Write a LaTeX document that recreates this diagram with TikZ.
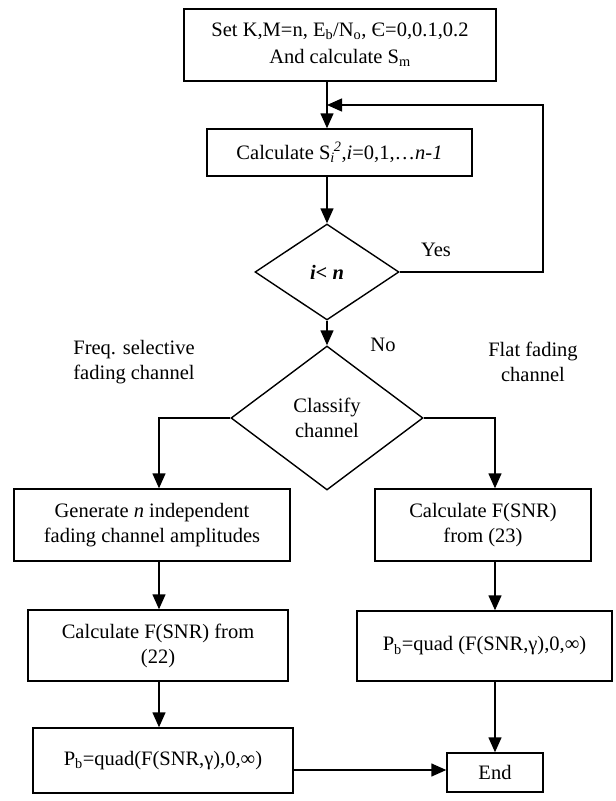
\documentclass[tikz,border=0pt]{standalone}
\usepackage{fontspec}
\setmainfont{Liberation Serif}
\usetikzlibrary{shapes.geometric,arrows.meta}
\begin{document}
\begin{tikzpicture}[x=1pt,y=-1pt,
  every node/.style={font=\fontsize{20.5}{25}\selectfont},
  box/.style={draw,line width=1.4pt,inner sep=0pt,align=center},
  dia/.style={draw,diamond,line width=1.4pt,inner sep=0pt,align=center},
  lbl/.style={align=center,inner sep=0pt},
  arr/.style={line width=1.4pt,-{Triangle[length=15pt,width=13pt]}},
  ln/.style={line width=1.4pt}]
\useasboundingbox (0,0) rectangle (616,801);
% nodes
\node[box,minimum width=312pt,minimum height=72pt] (top) at (340,45)
  {Set K,M=n, E\textsubscript{b}/N\textsubscript{o}, Є=0,0.1,0.2\\[2pt]And calculate S\textsubscript{m}};
\node[box,minimum width=265pt,minimum height=47pt] (calc) at (339.5,152.5)
  {Calculate S\textsubscript{\textit{i}}\kern-0.05em\textsuperscript{\textit{2}},\textit{i}=0,1,…\textit{n-1}};
\node[dia,minimum width=144pt,minimum height=96pt] (d1) at (327,272)
  {\bfseries\itshape i{\upshape<} n};
\node[dia,minimum width=192pt,minimum height=144pt] (d2) at (327,418)
  {Classify\\channel};
\node[box,minimum width=276pt,minimum height=72pt] (gen) at (152,525)
  {Generate \textit{n} independent\\fading channel amplitudes};
\node[box,minimum width=260pt,minimum height=71pt] (calc22) at (158,645.5)
  {Calculate F(SNR) from\\(22)};
\node[box,minimum width=260pt,minimum height=65pt] (pbl) at (163,760.5)
  {P\textsubscript{b}=quad(F(SNR,γ),0,∞)};
\node[box,minimum width=216pt,minimum height=72pt] (f23) at (483,525)
  {Calculate F(SNR)\\from (23)};
\node[box,minimum width=255pt,minimum height=70pt] (pbr) at (484.5,646)
  {P\textsubscript{b}=quad (F(SNR,γ),0,∞)};
\node[box,minimum width=96pt,minimum height=39pt] (endn) at (495,772.5) {End};
% labels
\node[lbl] (yes) at (436,250) {Yes};
\node[lbl] (no) at (383,345) {No};
\node[lbl] (freq) at (134,362) {Freq. selective\\fading channel};
\node[lbl] (flat) at (533,362) {Flat fading\\channel};
% helper coordinates
\coordinate (join) at (327,105);
\coordinate (loopc) at (543,272);
\coordinate (lx) at (159,0);
\coordinate (rx) at (495,0);
\coordinate (ey) at (0,770);
% connectors
\draw[arr] (top.south -| d1) -- (calc.north -| d1);
\draw[arr] (d1.east) -- (loopc) |- (join);
\draw[arr] (calc.south -| d1) -- (d1.north);
\draw[arr] (d1.south) -- (d2.north);
\draw[arr] (d2.west) -| (gen.north -| lx);
\draw[arr] (d2.east) -| (f23.north -| rx);
\draw[arr] (gen.south -| lx) -- (calc22.north -| lx);
\draw[arr] (calc22.south -| lx) -- (pbl.north -| lx);
\draw[arr] (f23.south -| rx) -- (pbr.north -| rx);
\draw[arr] (pbr.south -| rx) -- (endn.north -| rx);
\draw[arr] (pbl.east |- ey) -- (endn.west |- ey);
\end{tikzpicture}
\end{document}
